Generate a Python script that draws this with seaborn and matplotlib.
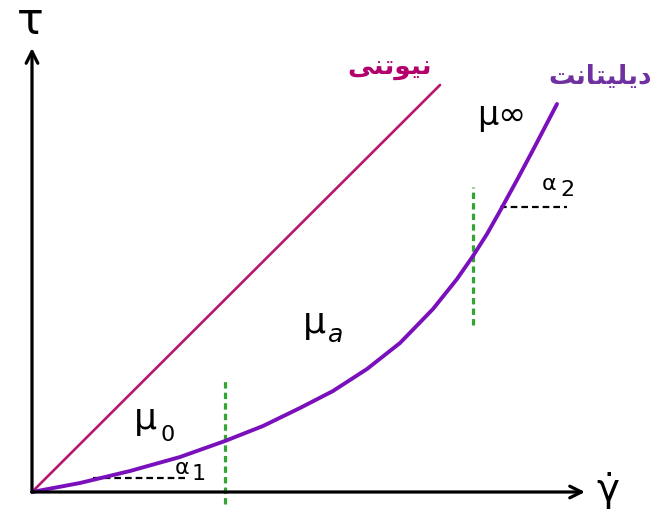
import matplotlib
matplotlib.use("Agg")
import matplotlib.pyplot as plt
import seaborn as sns

# Shear rate / shear stress (schematic units)
newton_rate = [0, 408]
newton_stress = [0, 407]

dilatant_rate = [0, 48, 98, 148, 193, 231, 268, 301, 335, 368, 401, 425, 441, 455, 468,
                 485, 501, 525]
dilatant_stress = [0, 9, 21, 35, 51, 66, 84, 101, 123, 149, 183, 213, 236, 258, 281,
                   312, 342, 388]

# Region boundaries (shear rate) and slope reference marks
boundary_rates = [193, 441]
boundary_spans = [(-12, 112), (167, 305)]
slope_marks = [((61, 155), 14), ((468, 535), 285)]

label_newton = "نیوتنی"
label_dilatant = "دیلیتانت"

# Minimal Persian contextual shaping for display
FORMS = {
    "ن": ("\uFEE5", "\uFEE6", "\uFEE7", "\uFEE8"),
    "ی": ("\uFBFC", "\uFBFD", "\uFBFE", "\uFBFF"),
    "ت": ("\uFE95", "\uFE96", "\uFE97", "\uFE98"),
    "ل": ("\uFEDD", "\uFEDE", "\uFEDF", "\uFEE0"),
    "و": ("\uFEED", "\uFEEE", None, None),
    "د": ("\uFEA9", "\uFEAA", None, None),
    "ا": ("\uFE8D", "\uFE8E", None, None),
}


def shape(word):
    out = []
    for i, ch in enumerate(word):
        f = FORMS[ch]
        prev = word[i - 1] if i > 0 else None
        nxt = word[i + 1] if i + 1 < len(word) else None
        join_prev = prev is not None and FORMS[prev][2] is not None
        join_next = f[2] is not None and nxt is not None
        if join_prev and join_next:
            out.append(f[3])
        elif join_prev:
            out.append(f[1])
        elif join_next:
            out.append(f[2])
        else:
            out.append(f[0])
    return "".join(reversed(out))


sns.set_theme(style="white")
plt.rcParams["font.family"] = ["DejaVu Sans"]

fig = plt.figure(figsize=(6.64, 5.15), dpi=100)
ax = fig.add_axes([0, 0, 1, 1])
ax.set_xlim(-32, 632)
ax.set_ylim(-23, 492)
ax.axis("off")

# Axes with arrow heads
arrow = dict(arrowstyle="->,head_length=0.7,head_width=0.35", lw=2.3, color="black",
             shrinkA=0, shrinkB=0)
ax.annotate("", xy=(0, 444), xytext=(0, 0), arrowprops=arrow)
ax.annotate("", xy=(553, 0), xytext=(0, 0), arrowprops=arrow)

# Boundaries between regions
for r, (y0, y1) in zip(boundary_rates, boundary_spans):
    ax.plot([r, r], [y0, y1], color="#33A532", lw=2.3, linestyle=(0, (2.0, 1.3)))

# Slope reference marks
for (x0, x1), y in slope_marks:
    ax.plot([x0, x1], [y, y], color="black", lw=1.6, linestyle=(0, (3.0, 1.8)))

sns.lineplot(x=newton_rate, y=newton_stress, color="#B8176E", linewidth=1.9, ax=ax,
             sort=False)
sns.lineplot(x=dilatant_rate, y=dilatant_stress, color="#7A10BC", linewidth=2.8, ax=ax,
             sort=False, solid_joinstyle="round", solid_capstyle="round")

# Axis labels
ax.text(-2, 470, "τ", fontsize=32, ha="center", va="center", color="black")
ax.text(576, 2, "γ\u0307", fontsize=28, ha="center", va="center", color="black")

# Curve names
ax.text(358, 424, shape(label_newton), fontsize=19, fontweight="bold", ha="center",
        va="center", color="#B3006A")
ax.text(568, 415, shape(label_dilatant), fontsize=19, fontweight="bold", ha="center",
        va="center", color="#7030A0")

# Viscosity and angle annotations
k = dict(ha="center", va="center", color="black")
ax.text(113, 73, "μ", fontsize=26, **k)
ax.text(136, 57, "0", fontsize=16, **k)
ax.text(282, 169, "μ", fontsize=26, **k)
ax.text(304, 157, "a", fontsize=18, style="italic", **k)
ax.text(470, 376, "μ∞", fontsize=24, **k)
ax.text(150, 24, "α", fontsize=16, **k)
ax.text(167, 18, "1", fontsize=16, **k)
ax.text(517, 308, "α", fontsize=16, **k)
ax.text(535, 302, "2", fontsize=16, **k)

fig.savefig("out.png", dpi=100)
